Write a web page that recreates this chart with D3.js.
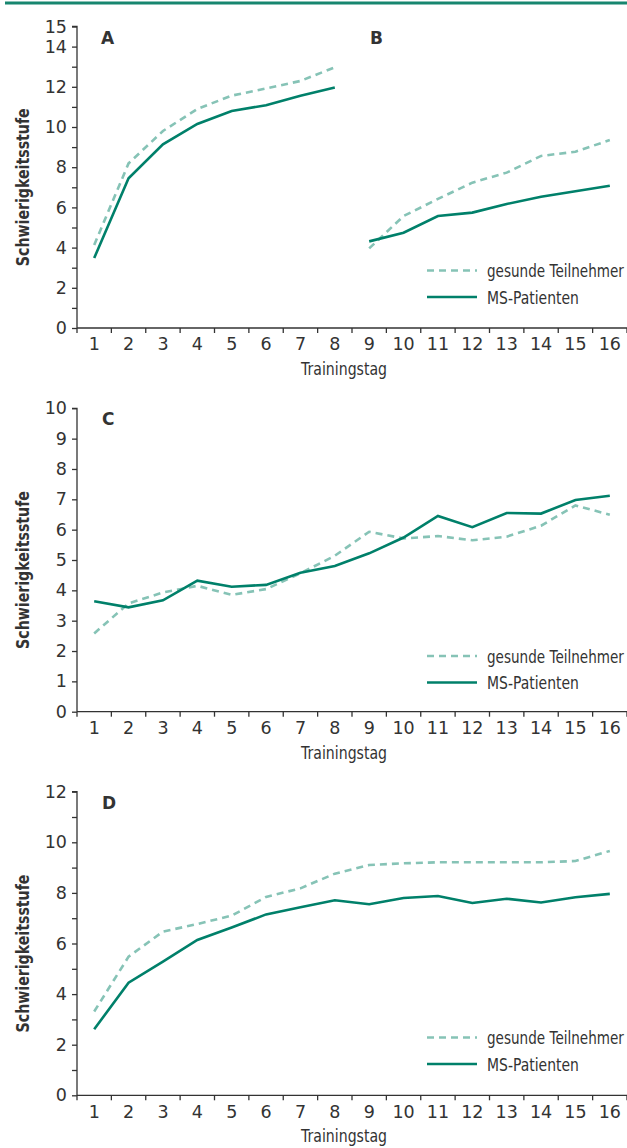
<!DOCTYPE html>
<html>
<head>
<meta charset="utf-8">
<script src="https://cdn.jsdelivr.net/npm/d3@7"></script>
<style>
  body { margin: 0; background: #fff; }
  svg { display: block; }
  text { font-family: "DejaVu Sans", sans-serif; fill: #333; }
</style>
</head>
<body>
<div id="chart"></div>
<script>

const days = d3.range(1, 17)

// Panel A (Tag 1-8) und B (Tag 9-16)
const gesundAB = [4.13, 8.19, 9.8, 10.9, 11.56, 11.92, 12.29, 12.97,
                  3.96, 5.57, 6.42, 7.23, 7.73, 8.56, 8.77, 9.35]
const msAB = [3.48, 7.45, 9.14, 10.15, 10.8, 11.08, 11.56, 11.96,
              4.31, 4.74, 5.57, 5.74, 6.17, 6.53, 6.8, 7.08]

// Panel C
const gesundC = [2.58, 3.57, 3.93, 4.15, 3.85, 4.04, 4.56, 5.14,
                 5.93, 5.71, 5.79, 5.65, 5.77, 6.13, 6.8, 6.49]
const msC = [3.64, 3.44, 3.67, 4.32, 4.12, 4.18, 4.58, 4.8,
             5.22, 5.74, 6.45, 6.08, 6.55, 6.53, 6.98, 7.12]

// Panel D
const gesundD = [3.31, 5.48, 6.47, 6.77, 7.1, 7.84, 8.18, 8.76,
                 9.1, 9.17, 9.21, 9.21, 9.21, 9.21, 9.26, 9.66]
const msD = [2.61, 4.45, 5.28, 6.14, 6.63, 7.15, 7.43, 7.71,
             7.55, 7.8, 7.88, 7.6, 7.77, 7.62, 7.83, 7.96]

const tickLabelsAB = [0, 2, 4, 6, 8, 10, 12, 14, 15]
const tickLabelsC = d3.range(0, 11)
const tickLabelsD = [0, 2, 4, 6, 8, 10, 12]

const legendLabels = ["gesunde Teilnehmer", "MS-Patienten"]
const yTitle = "Schwierigkeitsstufe"
const xTitle = "Trainingstag"

const colorMS = "#00806a"
const colorGesund = "#86c3b6"

const width = 627, height = 1148

const svg = d3.select("#chart")
    .append("svg")
    .attr("width", width)
    .attr("height", height)

// green rule on top
svg.append("line")
    .attr("x1", 5).attr("x2", width)
    .attr("y1", 3).attr("y2", 3)
    .attr("stroke", "#17866f")
    .attr("stroke-width", 3)

const x = d3.scaleBand()
    .domain(days)
    .range([77, 627])

// squeeze a text horizontally to a target width (condensed look)
function squeeze(sel, target) {
    sel.each(function (d, i) {
        const w = this.getComputedTextLength()
        const t = typeof target === "function" ? target(d, i) : target
        const k = Math.min(1, t / w)
        const tr = d3.select(this).attr("data-tr") || ""
        d3.select(this).attr("transform", `${tr} scale(${k},1)`)
    })
}

function drawPanel(opt) {
    const y = d3.scaleLinear()
        .domain([0, opt.max])
        .range([opt.bottom, opt.top])

    const g = svg.append("g")

    // y axis with minor ticks on every unit
    const yAxis = g.append("g")
        .attr("transform", `translate(77,0)`)
        .call(d3.axisLeft(y).tickValues(d3.range(0, opt.max + 1)).tickSize(5)
            .tickFormat(d => opt.labels.includes(d) ? d : ""))
    yAxis.select(".domain").attr("stroke", "#333").attr("stroke-width", 1.3)
        .attr("d", `M-5,${opt.top}H0V${opt.bottom}`)
    yAxis.selectAll(".tick line").attr("stroke", "#333").attr("stroke-width", 1.3)
    yAxis.selectAll(".tick text")
        .attr("x", -10)
        .attr("font-size", 17.5)
        .attr("font-family", null)
        .attr("fill", "#333")

    // x axis, ticks on band edges
    const xAxis = g.append("g")
        .attr("transform", `translate(0,${opt.bottom})`)
        .call(d3.axisBottom(x).tickSize(0).tickPadding(10))
    xAxis.select(".domain").attr("stroke", "#333").attr("stroke-width", 1.3)
        .attr("d", `M77,0H627`)
    xAxis.selectAll(".tick text")
        .attr("dy", "0.71em")
        .attr("font-size", 17.5)
        .attr("font-family", null)
        .attr("fill", "#333")
    xAxis.selectAll(".edge")
        .data(days)
        .enter()
        .append("line")
        .attr("x1", d => x(d) + x.bandwidth())
        .attr("x2", d => x(d) + x.bandwidth())
        .attr("y1", 0).attr("y2", 5)
        .attr("stroke", "#333").attr("stroke-width", 1.3)
    xAxis.append("line")
        .attr("x1", 77).attr("x2", 77)
        .attr("y1", 0).attr("y2", 5)
        .attr("stroke", "#333").attr("stroke-width", 1.3)

    // lines, split into segments (A/B has a break)
    const line = d3.line()
        .x(d => x(d.day) + x.bandwidth() / 2)
        .y(d => y(d.v))

    opt.segments.forEach(seg => {
        const gs = seg.map(i => ({ day: days[i], v: opt.gesund[i] }))
        const ms = seg.map(i => ({ day: days[i], v: opt.ms[i] }))
        g.append("path")
            .attr("d", line(gs))
            .attr("fill", "none")
            .attr("stroke", colorGesund)
            .attr("stroke-width", 2.6)
            .attr("stroke-dasharray", "7,5")
        g.append("path")
            .attr("d", line(ms))
            .attr("fill", "none")
            .attr("stroke", colorMS)
            .attr("stroke-width", 2.6)
    })

    // panel letters
    opt.letters.forEach(l => {
        g.append("text")
            .attr("x", l.x)
            .attr("y", opt.top + 17)
            .attr("font-size", 17)
            .attr("font-weight", "bold")
            .attr("fill", "#222")
            .text(l.t)
    })

    // legend
    const lg = g.append("g").attr("transform", `translate(427,${opt.legendY})`)
    lg.append("line").attr("x1", 0).attr("x2", 50).attr("y1", 0).attr("y2", 0)
        .attr("stroke", colorGesund).attr("stroke-width", 2.6).attr("stroke-dasharray", "7,5")
    lg.append("line").attr("x1", 0).attr("x2", 50).attr("y1", 26.5).attr("y2", 26.5)
        .attr("stroke", colorMS).attr("stroke-width", 2.6)
    lg.selectAll(".lt")
        .data(legendLabels)
        .enter()
        .append("text")
        .attr("data-tr", (d, i) => `translate(60,${i * 26.5 + 6.5})`)
        .attr("font-size", 18.5)
        .attr("fill", "#333")
        .text(d => d)
        .call(squeeze, (d, i) => i === 0 ? 137 : 92)

    // axis titles
    svg.append("text")
        .attr("text-anchor", "middle")
        .attr("data-tr", `translate(29,${(opt.top + opt.bottom) / 2 + 10}) rotate(-90)`)
        .attr("font-size", 18)
        .attr("font-weight", "bold")
        .attr("fill", "#222")
        .text(yTitle)
        .call(squeeze, 158)

    svg.append("text")
        .attr("text-anchor", "middle")
        .attr("data-tr", `translate(344,${opt.bottom + 47})`)
        .attr("font-size", 18)
        .attr("fill", "#333")
        .text(xTitle)
        .call(squeeze, 86)
}

drawPanel({
    max: 15, top: 26.5, bottom: 328, labels: tickLabelsAB,
    gesund: gesundAB, ms: msAB,
    segments: [d3.range(0, 8), d3.range(8, 16)],
    letters: [{ t: "A", x: 101 }, { t: "B", x: 370 }],
    legendY: 270.5
})

drawPanel({
    max: 10, top: 408.3, bottom: 711.7, labels: tickLabelsC,
    gesund: gesundC, ms: msC,
    segments: [d3.range(0, 16)],
    letters: [{ t: "C", x: 102 }],
    legendY: 656
})

drawPanel({
    max: 12, top: 791.7, bottom: 1095.3, labels: tickLabelsD,
    gesund: gesundD, ms: msD,
    segments: [d3.range(0, 16)],
    letters: [{ t: "D", x: 102 }],
    legendY: 1037.5
})
</script>
</body>
</html>
